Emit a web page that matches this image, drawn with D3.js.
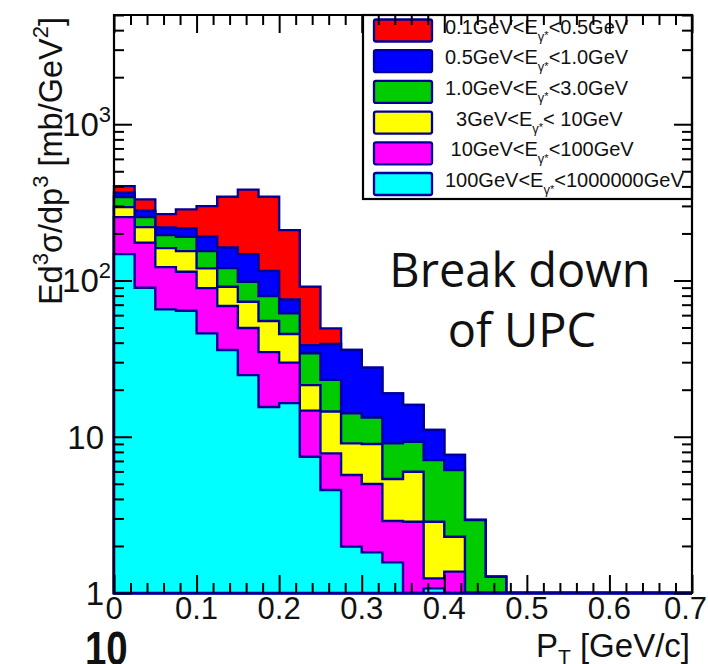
<!DOCTYPE html>
<html>
<head>
<meta charset="utf-8">
<script src="https://cdn.jsdelivr.net/npm/d3@7"></script>
<style>
  html, body { margin: 0; padding: 0; background: #fff; }
  svg { display: block; }
  text { font-family: "Liberation Sans", Arial, Helvetica, sans-serif; white-space: pre; }
</style>
</head>
<body>
<svg id="chart" width="708" height="664"></svg>
<script>
// ---- data -------------------------------------------------------------
// pT bin edges [GeV/c]
const ptEdges = [0, 0.025, 0.05, 0.075, 0.1, 0.125, 0.15, 0.175, 0.2, 0.225,
                 0.25, 0.275, 0.3, 0.325, 0.35, 0.375, 0.4, 0.425, 0.45, 0.475];

// contribution of each photon-energy range per bin [mb/GeV^2]
const eRange100to1e6 = [147.5, 89.8, 65.3, 64.0, 45.9, 35.9, 24.8, 15.5, 16.4, 7.45,
                        4.56, 1.98, 1.82, 1.57, 0, 1.07, 0, 0, 0];
const eRange10to100  = [106.9, 84.4, 56.5, 49.7, 43.5, 32.7, 24.8, 19.3, 13.4, 7.25,
                        3.27, 3.71, 3.16, 1.32, 2.86, 0.17, 1.37, 0, 0];
const eRange3to10    = [40.5, 45.4, 39.4, 40.5, 30.1, 22.5, 23.5, 20.2, 15.6, 6.7,
                        6.67, 3.38, 4.0, 2.47, 3.11, 1.62, 0.92, 0, 0];
const eRange1to3     = [46.9, 34.8, 34.0, 36.2, 34.7, 28.9, 25.0, 24.5, 16.2, 12.8,
                        8.6, 5.03, 4.3, 3.71, 3.32, 4.23, 3.83, 2.93, 1.27];
const eRange05to1    = [22.2, 24.8, 23.5, 25.1, 36.2, 42.4, 49.4, 35.4, 13.9, 4.4,
                        16.1, 21.8, 14.4, 9.88, 6.66, 3.95, 1.52, 0, 0];
const eRange01to05   = [37.8, 51.1, 47.3, 69.5, 108.8, 180.8, 234.1, 228.3, 134.6, 52.5,
                        10.2, 0, 0, 0, 0, 0, 0, 0, 0];

// legend labels (top entry first): text before and after the E_{γ*} symbol
const legendPre  = ["0.1GeV<E", "0.5GeV<E", "1.0GeV<E", "  3GeV<E", " 10GeV<E", "100GeV<E"];
const legendPost = ["<0.5GeV", "<1.0GeV", "<3.0GeV", "< 10GeV", "<100GeV", "<1000000GeV"];
const fillColors = ["#ff0000", "#0000ff", "#00cc00", "#ffff00", "#ff00ff", "#00ffff"];

// axis ticks
const xMajorTicks = [0, 0.1, 0.2, 0.3, 0.4, 0.5, 0.6, 0.7];
const xTickLabels = ["0", "0.1", "0.2", "0.3", "0.4", "0.5", "0.6", "0.7"];
const yMajorTicks = [1, 10, 100, 1000];
const yTickBase   = ["1", "10", "10", "10"];
const yTickExp    = ["", "", "2", "3"];

// ---- layout ---------------------------------------------------------------
const W = 708;
const svg = d3.select("#chart");
const L = 114, R = 692, T = 15, B = 593;
const x = d3.scaleLinear().domain([0, 0.7]).range([L, R]);
const y = d3.scaleLog().domain([1, 5000]).range([B, T]).clamp(true);
const navy = "#000099";

// stack: bottom layer first
const layers = [eRange100to1e6, eRange10to100, eRange3to10, eRange1to3, eRange05to1, eRange01to05];
const layerColors = fillColors.slice().reverse();
const binRows = ptEdges.slice(0, -1).map((e, i) => layers.map(l => l[i]));
const stacked = d3.stack().keys(d3.range(layers.length)).value((d, k) => d[k])(binRows);

// frame bottom (underneath the histogram outlines)
svg.append("line").attr("x1", L).attr("x2", R).attr("y1", B).attr("y2", B)
   .attr("stroke", "#000").attr("stroke-width", 2);

// cumulative histograms, drawn from the full sum down to the bottom layer
function stepPath(tops) {
  const p = d3.path();
  p.moveTo(x(0), y(1));
  tops.forEach((v, i) => {
    const yy = y(Math.max(v, 1));
    p.lineTo(x(ptEdges[i]), yy);
    p.lineTo(x(ptEdges[i + 1]), yy);
  });
  p.lineTo(x(ptEdges[ptEdges.length - 1]), y(1));
  p.lineTo(x(0.7), y(1));
  p.closePath();
  return p.toString();
}
for (let k = stacked.length - 1; k >= 0; k--) {
  svg.append("path")
     .attr("d", stepPath(stacked[k].map(d => d[1])))
     .attr("fill", layerColors[k])
     .attr("stroke", navy).attr("stroke-width", 2.4)
     .attr("stroke-linejoin", "miter");
}

// ---- legend ----------------------------------------------------------------
const leg = svg.append("g");
leg.append("rect").attr("x", 363).attr("y", T).attr("width", R - 363).attr("height", 184)
   .attr("fill", "#fff").attr("stroke", "#000").attr("stroke-width", 2.2);
legendPre.forEach((pre, i) => {
  const cy = 30.5 + 30.7 * i;
  leg.append("rect").attr("x", 374).attr("y", cy - 11).attr("width", 58).attr("height", 22)
     .attr("rx", 2).attr("fill", fillColors[i]).attr("stroke", navy).attr("stroke-width", 2.3);
  const t = leg.append("text").attr("x", 445).attr("y", cy + 3).attr("font-size", 20).attr("fill", "#111");
  t.append("tspan").text(pre);
  t.append("tspan").attr("font-size", 13).attr("dy", 7).text("γ");
  t.append("tspan").attr("font-size", 11).attr("dy", -1.5).text("*");
  t.append("tspan").attr("font-size", 20).attr("dy", -5.5).text(legendPost[i]);
});

// ---- axes ticks ------------------------------------------------------------
const xMinor = d3.range(0, 71, 2).map(v => v / 100).filter(v => !xMajorTicks.some(m => Math.abs(m - v) < 1e-9));
const yMinor = [];
[1, 10, 100, 1000].forEach(d => { for (let m = 2; m <= 9; m++) if (d * m <= 5000) yMinor.push(d * m); });

function tickAxis(axisFn, scale, values, size, transform) {
  const g = svg.append("g").attr("transform", transform)
    .call(axisFn(scale).tickValues(values).tickSize(size).tickSizeOuter(0).tickFormat(""));
  g.select(".domain").remove();
  g.selectAll(".tick line").attr("stroke", "#000").attr("stroke-width", 2);
  return g;
}
tickAxis(d3.axisBottom, x, xMajorTicks, -18, `translate(0,${B})`);
tickAxis(d3.axisBottom, x, xMinor, -10, `translate(0,${B})`);
tickAxis(d3.axisTop, x, xMajorTicks, -18, `translate(0,${T})`);
tickAxis(d3.axisTop, x, xMinor, -10, `translate(0,${T})`);
tickAxis(d3.axisLeft, y, yMajorTicks, -18, `translate(${L},0)`);
tickAxis(d3.axisLeft, y, yMinor, -10, `translate(${L},0)`);
tickAxis(d3.axisRight, y, yMajorTicks, -18, `translate(${R},0)`);
tickAxis(d3.axisRight, y, yMinor, -10, `translate(${R},0)`);

// frame: top, left, right
svg.append("path")
   .attr("d", `M${L},${B + 1}V${T}H${R}V${B + 1}`)
   .attr("fill", "none").attr("stroke", "#000").attr("stroke-width", 2.2);

// x tick labels, centred on their ticks but kept inside the page
svg.append("g").selectAll("text").data(xMajorTicks).join("text")
   .attr("y", 619).attr("text-anchor", "middle")
   .attr("font-size", 31).attr("fill", "#111")
   .text((d, i) => xTickLabels[i])
   .attr("x", function (d) {
     const half = this.getComputedTextLength() / 2;
     return Math.min(x(d), W - 1 - half);
   });

// y tick labels with powers of ten
yMajorTicks.forEach((v, i) => {
  const t = svg.append("text").attr("font-size", 33).attr("fill", "#111")
     .attr("text-anchor", "end").attr("y", y(v) + 12);
  if (yTickExp[i]) {
    t.attr("x", 111);
    t.append("tspan").text(yTickBase[i]);
    t.append("tspan").attr("font-size", 22).attr("dy", -14).text(yTickExp[i]);
  } else {
    t.attr("x", 104).text(yTickBase[i]);
  }
});

// axis titles
const xt = svg.append("text").attr("x", 690).attr("y", 657).attr("text-anchor", "end")
   .attr("font-size", 33).attr("fill", "#111");
xt.append("tspan").text("P");
xt.append("tspan").attr("font-size", 21).attr("dy", 7).text("T");
xt.append("tspan").attr("dy", -7).text(" [GeV/c]");

const yt = svg.append("text").attr("transform", "translate(62,17) rotate(-90)")
   .attr("text-anchor", "end").attr("font-size", 32.5).attr("fill", "#111");
[["Ed", 0], ["3", 1], ["σ/dp", 0], ["3", 1], [" [mb/GeV", 0], ["2", 1], ["]", 0]].forEach(([s, sup], i, arr) => {
  const prevSup = i > 0 && arr[i - 1][1];
  const sp = yt.append("tspan").text(s);
  if (sup) sp.attr("font-size", 22).attr("dy", -14);
  else if (prevSup) sp.attr("dy", 14);
});

// annotation
const note = svg.append("text").attr("text-anchor", "middle")
   .style("font-family", "'Open Sans', 'Noto Sans', sans-serif")
   .attr("font-size", 47).attr("fill", "#111");
note.append("tspan").attr("x", 520).attr("y", 287).text("Break down");
note.append("tspan").attr("x", 522).attr("y", 347).text("of UPC");

// page number fragment at the lower-left (condensed)
svg.append("text").attr("transform", "translate(85,665) scale(0.8,1)")
   .attr("font-size", 48).attr("font-weight", "bold")
   .attr("fill", "#111").text("10");
</script>
</body>
</html>
